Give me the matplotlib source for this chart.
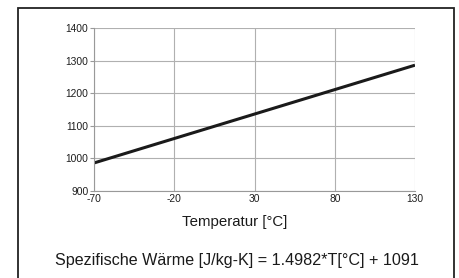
import matplotlib.pyplot as plt
from matplotlib.patches import Rectangle
from matplotlib.ticker import FuncFormatter

# data
temps = [-70, 130]
cp = [986, 1286]
xticks = [-70, -20, 30, 80, 130]
yticks = [900, 1000, 1100, 1200, 1300, 1400]
xlabel = 'Temperatur [°C]'
caption = 'Spezifische Wärme [J/kg-K] = 1.4982*T[°C] + 1091'

plt.rcParams['font.family'] = ['Liberation Sans', 'DejaVu Sans']

W, H = 459, 278
fig = plt.figure(figsize=(W / 100, H / 100), dpi=100)

# outer frame
fig.patches.append(Rectangle((18 / W, -0.05), (454 - 18) / W, 1.05 - 8 / H,
                             transform=fig.transFigure, fill=False,
                             edgecolor='#222222', linewidth=1.3))

ax = fig.add_axes([94 / W, 1 - 191 / H, (415 - 94) / W, (191 - 28) / H])
ax.plot(temps, cp, color='#1a1a1a', linewidth=2.2, solid_capstyle='butt')
ax.set_xlim(-70, 130)
ax.set_ylim(900, 1400)
ax.set_xticks(xticks)
ax.set_yticks(yticks)
ax.xaxis.set_major_formatter(FuncFormatter(lambda v, p: '%d' % v))
ax.grid(True, color='#b0b0b0', linewidth=0.8)
for s in ['top', 'right']:
    ax.spines[s].set_visible(False)
for s in ['left', 'bottom']:
    ax.spines[s].set_color('#999999')
    ax.spines[s].set_linewidth(0.8)
ax.tick_params(axis='both', labelsize=7.4, colors='#999999', labelcolor='#1e1e1e',
               length=3, width=0.8, pad=1)
ax.tick_params(axis='x', length=0, pad=2.5)

fig.text(235 / W, 1 - 222 / H, xlabel, ha='center', va='center', fontsize=10.8, color='#1a1a1a')
fig.text(237 / W, 1 - 261 / H, caption, ha='center', va='center', fontsize=11.6, color='#1a1a1a')

fig.savefig('out.png', dpi=100)
